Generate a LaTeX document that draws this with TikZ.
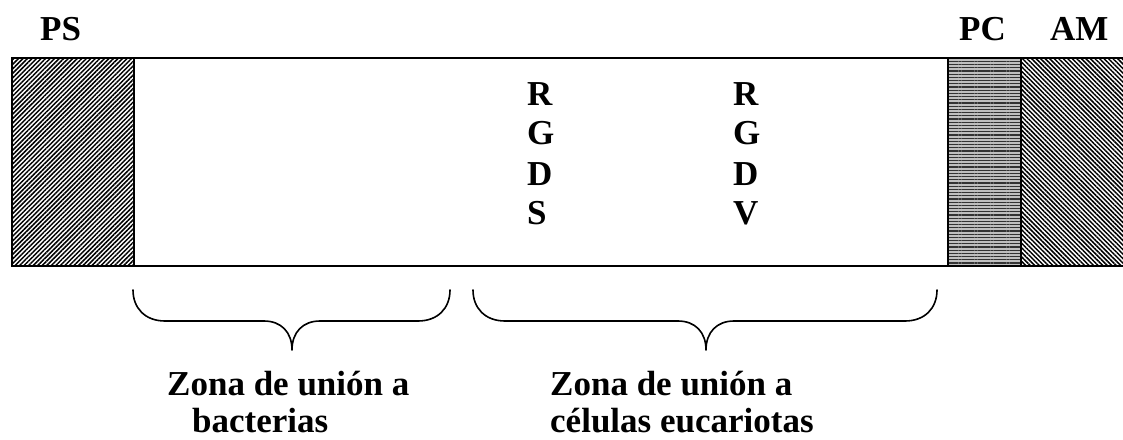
\documentclass[tikz,border=0pt]{standalone}
\usepackage{fontspec}
\setmainfont{Liberation Serif}
\usetikzlibrary{patterns.meta}

% curly brace under a zone: left end x, tip x, right end x
\newcommand\zonebrace[3]{%
  \draw[brace line] (#1,290) .. controls (#1,308) and (#1+12,321) .. (#1+32,321)
    -- (#2-28,321) .. controls (#2-11,321) and (#2,332) .. (#2,350)
    .. controls (#2,332) and (#2+11,321) .. (#2+28,321)
    -- (#3-32,321) .. controls (#3-12,321) and (#3,308) .. (#3,290);}

\begin{document}
\begin{tikzpicture}[x=1pt,y=-1pt,
  lbl/.style={inner sep=0pt,anchor=base west,font=\fontsize{35}{40}\selectfont\bfseries},
  frame/.style={draw=black,line width=2pt},
  brace line/.style={draw=black,line width=1.6pt,line cap=round,line join=round},
  fwdhatch/.style={pattern={Lines[angle=45,distance=3.2pt,line width=1.5pt]},pattern color=black},
  backhatch/.style={pattern={Lines[angle=-45,distance=3.2pt,line width=1.5pt]},pattern color=black},
  horhatch/.style={pattern={Lines[angle=0,distance=3.2pt,line width=1.2pt]},pattern color=black!80}]
\useasboundingbox (0,0) rectangle (1123,439);

% protein bar: PS | free region | PC | AM
\fill[white] (12,58) rectangle (1125,266);
\fill[fwdhatch] (12,58) rectangle (134,266);
\fill[gray!50] (948,58) rectangle (1021,266);
\fill[horhatch] (948,58) rectangle (1021,266);
\fill[backhatch] (1021,58) rectangle (1125,266);
\draw[frame] (12,58) rectangle (1126,266);
\draw[frame] (134,58) -- (134,266);
\draw[frame] (948,58) -- (948,266);
\draw[frame] (1021,58) -- (1021,266);

% domain labels
\node[lbl] (ps) at (40,40) {PS};
\node[lbl] (pc) at (959,40) {PC};
\node[lbl] (am) at (1050,40) {AM};

% RGD motifs
\node[lbl] (r1) at (527,105) {R};
\node[lbl] (g1) at (527,144.5) {G};
\node[lbl] (d1) at (527,185) {D};
\node[lbl] (s1) at (527,224.5) {S};
\node[lbl] (r2) at (733,105) {R};
\node[lbl] (g2) at (733,144.5) {G};
\node[lbl] (d2) at (733,185) {D};
\node[lbl] (v2) at (733,224.5) {V};

% binding zones
\zonebrace{133}{292}{450}
\zonebrace{473}{706}{937}

\node[lbl] (bac1) at (167,395) {Zona de unión a};
\node[lbl] (bac2) at (192,432) {bacterias};
\node[lbl] (euk1) at (550,395) {Zona de unión a};
\node[lbl] (euk2) at (550,432) {células eucariotas};
\end{tikzpicture}
\end{document}
